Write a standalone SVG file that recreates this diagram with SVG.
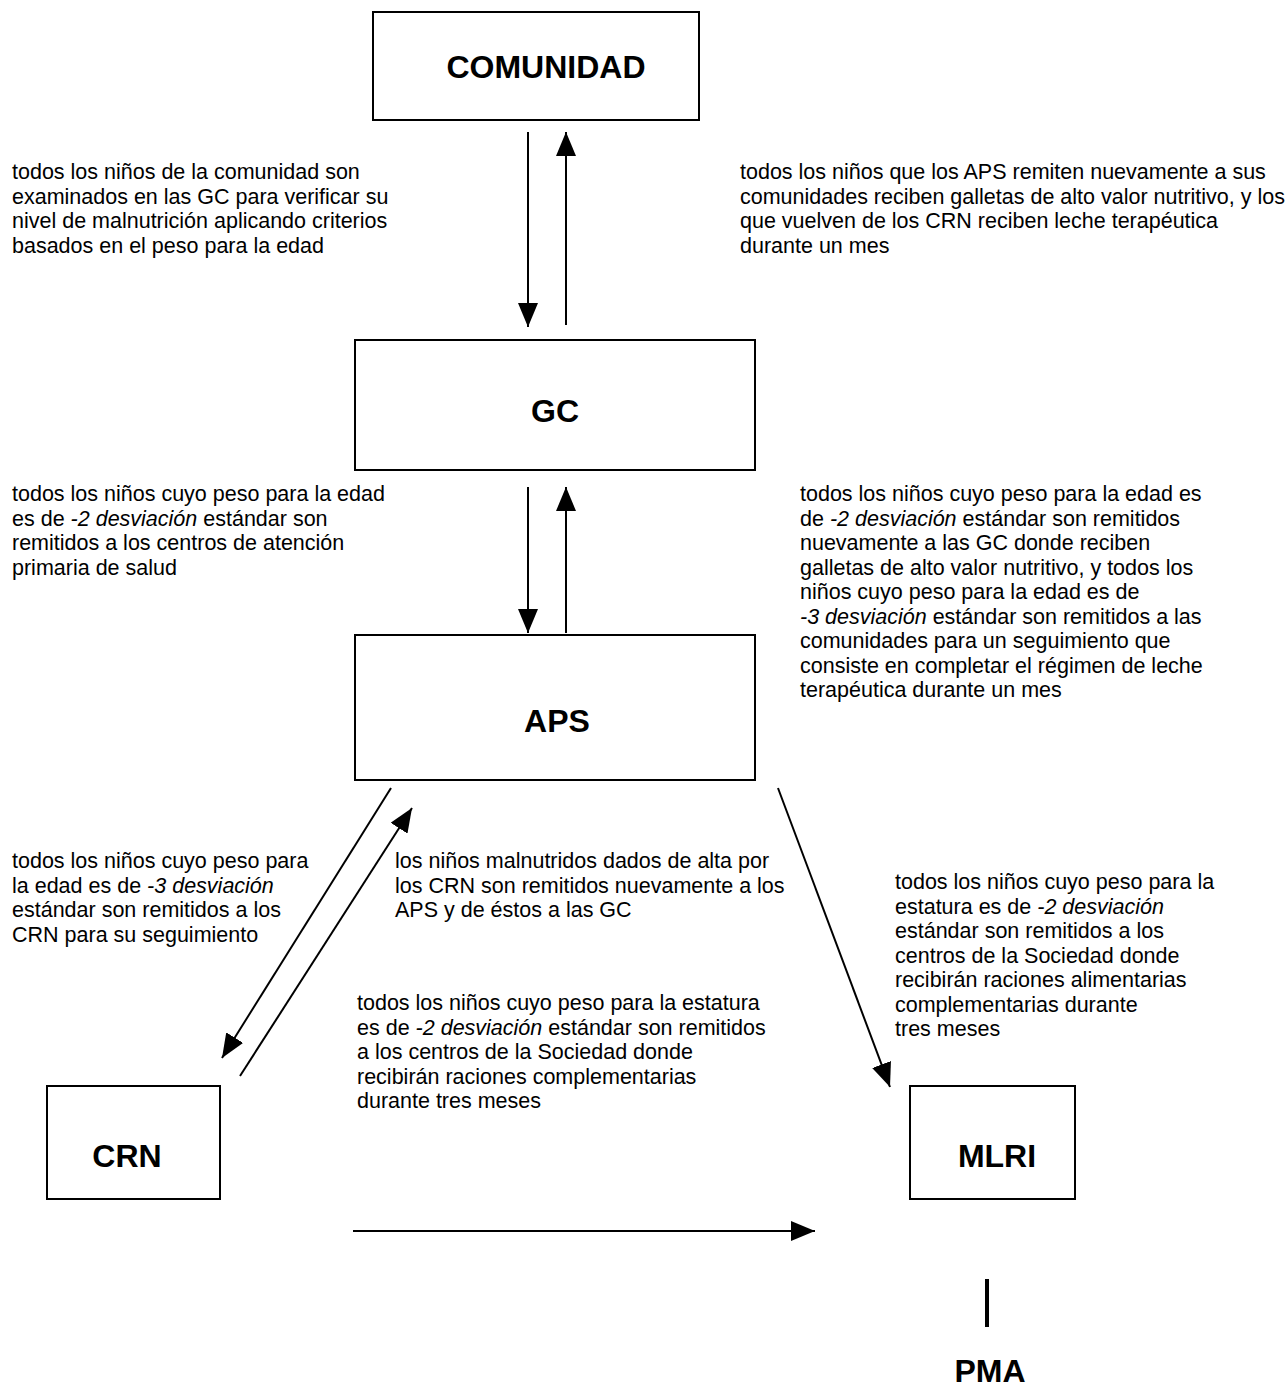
<svg xmlns="http://www.w3.org/2000/svg" width="1287" height="1390" viewBox="0 0 1287 1390">
<style>
.box{fill:#fff;stroke:#000;stroke-width:2}
.title{font-family:"Liberation Sans",Arial,sans-serif;font-weight:bold;font-size:32px;text-anchor:middle;fill:#000}
.lbl{font-family:"Liberation Sans",Arial,sans-serif;font-size:21.5px;fill:#000}
.it{font-style:italic}
.con{stroke:#000;stroke-width:2;fill:none}
</style>
<defs>
<marker id="ah" markerUnits="userSpaceOnUse" markerWidth="24" markerHeight="20" viewBox="0 0 24 20" refX="24" refY="10" orient="auto">
<path d="M0,0 L24,10 L0,20 Z" fill="#000"/>
</marker>
</defs>
<rect width="1287" height="1390" fill="#fff"/>
<g id="node-comunidad"><rect class="box" x="373" y="12" width="326" height="108"/><text class="title" x="546" y="77.5">COMUNIDAD</text></g>
<g id="node-gc"><rect class="box" x="355" y="340" width="400" height="130"/><text class="title" x="555" y="421.5">GC</text></g>
<g id="node-aps"><rect class="box" x="355" y="635" width="400" height="145"/><text class="title" x="557" y="731.5">APS</text></g>
<g id="node-crn"><rect class="box" x="47" y="1086" width="173" height="113"/><text class="title" x="127" y="1166.5">CRN</text></g>
<g id="node-mlri"><rect class="box" x="910" y="1086" width="165" height="113"/><text class="title" x="997" y="1166.5">MLRI</text></g>
<g id="node-pma"><text class="title" x="990" y="1382">PMA</text></g>
<g id="connectors">
<line class="con" x1="528" y1="132" x2="528" y2="327" marker-end="url(#ah)"/>
<line class="con" x1="566" y1="325" x2="566" y2="132" marker-end="url(#ah)"/>
<line class="con" x1="528" y1="487" x2="528" y2="633" marker-end="url(#ah)"/>
<line class="con" x1="566" y1="633" x2="566" y2="487" marker-end="url(#ah)"/>
<line class="con" x1="391" y1="788" x2="222" y2="1058" marker-end="url(#ah)"/>
<line class="con" x1="240" y1="1076" x2="412" y2="808" marker-end="url(#ah)"/>
<line class="con" x1="778" y1="788" x2="890" y2="1087" marker-end="url(#ah)"/>
<line class="con" x1="353" y1="1231" x2="815" y2="1231" marker-end="url(#ah)"/>
<line x1="987" y1="1279" x2="987" y2="1327" stroke="#000" stroke-width="4"/>
</g>
<g id="labels">
<text class="lbl" x="12" y="179">todos los niños de la comunidad son</text>
<text class="lbl" x="12" y="203.5">examinados en las GC para verificar su</text>
<text class="lbl" x="12" y="228">nivel de malnutrición aplicando criterios</text>
<text class="lbl" x="12" y="252.5">basados en el peso para la edad</text>

<text class="lbl" x="740" y="179">todos los niños que los APS remiten nuevamente a sus</text>
<text class="lbl" x="740" y="203.5">comunidades reciben galletas de alto valor nutritivo, y los</text>
<text class="lbl" x="740" y="228">que vuelven de los CRN reciben leche terapéutica</text>
<text class="lbl" x="740" y="252.5">durante un mes</text>

<text class="lbl" x="12" y="501">todos los niños cuyo peso para la edad</text>
<text class="lbl" x="12" y="525.5">es de <tspan class="it">-2 desviación</tspan> estándar son</text>
<text class="lbl" x="12" y="550">remitidos a los centros de atención</text>
<text class="lbl" x="12" y="574.5">primaria de salud</text>

<text class="lbl" x="800" y="501">todos los niños cuyo peso para la edad es</text>
<text class="lbl" x="800" y="525.5">de <tspan class="it">-2 desviación</tspan> estándar son remitidos</text>
<text class="lbl" x="800" y="550">nuevamente a las GC donde reciben</text>
<text class="lbl" x="800" y="574.5">galletas de alto valor nutritivo, y todos los</text>
<text class="lbl" x="800" y="599">niños cuyo peso para la edad es de</text>
<text class="lbl" x="800" y="623.5"><tspan class="it">-3 desviación</tspan> estándar son remitidos a las</text>
<text class="lbl" x="800" y="648">comunidades para un seguimiento que</text>
<text class="lbl" x="800" y="672.5">consiste en completar el régimen de leche</text>
<text class="lbl" x="800" y="697">terapéutica durante un mes</text>

<text class="lbl" x="12" y="868">todos los niños cuyo peso para</text>
<text class="lbl" x="12" y="892.5">la edad es de <tspan class="it">-3 desviación</tspan></text>
<text class="lbl" x="12" y="917">estándar son remitidos a los</text>
<text class="lbl" x="12" y="941.5">CRN para su seguimiento</text>

<text class="lbl" x="395" y="868">los niños malnutridos dados de alta por</text>
<text class="lbl" x="395" y="892.5">los CRN son remitidos nuevamente a los</text>
<text class="lbl" x="395" y="917">APS y de éstos a las GC</text>

<text class="lbl" x="895" y="889">todos los niños cuyo peso para la</text>
<text class="lbl" x="895" y="913.5">estatura es de <tspan class="it">-2 desviación</tspan></text>
<text class="lbl" x="895" y="938">estándar son remitidos a los</text>
<text class="lbl" x="895" y="962.5">centros de la Sociedad donde</text>
<text class="lbl" x="895" y="987">recibirán raciones alimentarias</text>
<text class="lbl" x="895" y="1011.5">complementarias durante</text>
<text class="lbl" x="895" y="1036">tres meses</text>

<text class="lbl" x="357" y="1010">todos los niños cuyo peso para la estatura</text>
<text class="lbl" x="357" y="1034.5">es de <tspan class="it">-2 desviación</tspan> estándar son remitidos</text>
<text class="lbl" x="357" y="1059">a los centros de  la Sociedad donde</text>
<text class="lbl" x="357" y="1083.5">recibirán raciones complementarias</text>
<text class="lbl" x="357" y="1108">durante tres meses</text>
</g>
</svg>
